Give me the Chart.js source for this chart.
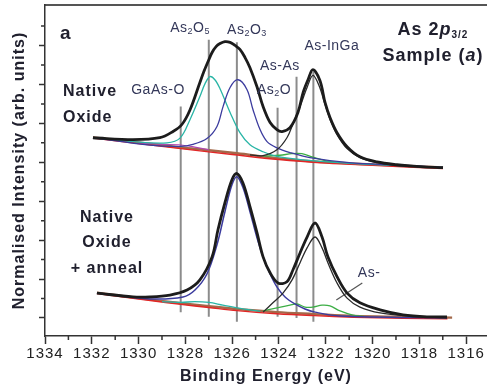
<!DOCTYPE html>
<html>
<head>
<meta charset="utf-8">
<script src="https://cdn.jsdelivr.net/npm/chart.js@4.4.1/dist/chart.umd.min.js"></script>
<style>
  html, body { margin: 0; padding: 0; background: #fff; }
  #wrap { width: 487px; height: 392px; position: relative; }
</style>
</head>
<body>
<div id="wrap"><canvas id="as2pChart"></canvas></div>
<script>
// As 2p3/2 fits, binding energy (eV) vs normalised intensity (arb. units)

// native oxide (upper spectrum)
var topEnvelope = [[1331.95, 4.63], [1330.24, 4.58], [1329.09, 4.63], [1328.53, 4.79], [1328.15, 4.97], [1327.80, 5.35],
  [1327.38, 6.05], [1327.21, 6.33], [1327.03, 6.59], [1326.86, 6.82], [1326.69, 6.97], [1326.52, 7.05], [1326.31, 7.10],
  [1326.09, 7.08], [1325.88, 7.00], [1325.67, 6.90], [1325.45, 6.69], [1325.24, 6.43], [1324.94, 5.94], [1324.68, 5.43],
  [1324.38, 5.02], [1324.09, 4.84], [1323.87, 4.79], [1323.53, 4.89], [1323.19, 5.28], [1322.97, 5.79], [1322.76, 6.12],
  [1322.55, 6.38], [1322.25, 6.10], [1322.03, 5.53], [1321.82, 5.15], [1321.52, 4.76], [1321.09, 4.40], [1320.54, 4.14],
  [1319.81, 4.01], [1318.96, 3.94], [1317.97, 3.89], [1316.99, 3.86]];
var topAsInGa = [[1325.24, 4.19], [1324.68, 4.17], [1324.09, 4.32], [1323.66, 4.63], [1323.40, 4.99], [1323.10, 5.43],
  [1322.80, 5.92], [1322.55, 6.23], [1322.29, 5.97], [1322.03, 5.48], [1321.82, 5.10], [1321.52, 4.71], [1321.09, 4.35],
  [1320.54, 4.12], [1319.81, 3.99], [1318.96, 3.91], [1317.97, 3.88], [1316.99, 3.86]];
var topAs2O5 = [[1331.95, 4.63], [1330.24, 4.53], [1328.79, 4.50], [1328.23, 4.62], [1327.80, 5.10], [1327.38, 5.69],
  [1327.16, 6.02], [1326.95, 6.20], [1326.74, 6.12], [1326.52, 5.89], [1326.09, 5.28], [1325.67, 4.76], [1325.24, 4.45],
  [1324.68, 4.27], [1324.09, 4.15], [1323.10, 4.07], [1321.0, 3.97], [1319.0, 3.92], [1316.99, 3.87]];
var topAs2O3 = [[1331.95, 4.63], [1329.51, 4.44], [1328.23, 4.41], [1327.68, 4.46], [1327.08, 4.61], [1326.65, 4.92],
  [1326.39, 5.43], [1326.09, 5.92], [1325.75, 6.12], [1325.37, 5.87], [1325.11, 5.35], [1324.81, 4.84], [1324.51, 4.53],
  [1324.09, 4.37], [1323.53, 4.25], [1322.68, 4.12], [1321.0, 3.99], [1319.0, 3.93], [1316.99, 3.87]];
var topAsAs = [[1324.68, 4.16], [1323.96, 4.18], [1323.45, 4.22], [1323.02, 4.22], [1322.59, 4.14], [1322.03, 4.04],
  [1321.39, 3.99]];
var topGaAsO = [[1330.0, 4.50], [1329.0, 4.46], [1328.3, 4.45], [1327.6, 4.39], [1327.0, 4.32]];
var topShirley = [[1331.95, 4.64], [1330.0, 4.51], [1328.2, 4.38], [1327.0, 4.31], [1325.8, 4.23], [1324.0, 4.10],
  [1322.5, 4.02], [1321.0, 3.97], [1319.0, 3.92], [1316.99, 3.87]];
var topLinear = [[1331.95, 4.62], [1330.0, 4.48], [1328.2, 4.35], [1326.0, 4.20], [1324.0, 4.07], [1322.0, 3.98],
  [1320.0, 3.92], [1316.99, 3.84]];

// native oxide + anneal (lower spectrum)
var lowEnvelope = [[1331.78, 0.64], [1330.24, 0.54], [1329.51, 0.54], [1328.66, 0.59], [1327.93, 0.72], [1327.38, 0.98],
  [1326.86, 1.57], [1326.61, 2.26], [1326.31, 2.96], [1326.01, 3.55], [1325.80, 3.71], [1325.54, 3.47], [1325.24, 2.86],
  [1324.94, 2.19], [1324.68, 1.57], [1324.38, 1.16], [1324.04, 0.90], [1323.66, 0.93], [1323.40, 1.24], [1323.10, 1.67],
  [1322.80, 2.08], [1322.46, 2.44], [1322.16, 2.08], [1321.91, 1.57], [1321.52, 1.06], [1321.09, 0.64], [1320.54, 0.39],
  [1319.68, 0.21], [1318.70, 0.08], [1317.68, 0.03], [1316.82, 0.03]];
var lowAsInGa = [[1324.68, 0.15], [1324.26, 0.39], [1323.83, 0.64], [1323.44, 0.98], [1323.10, 1.42], [1322.80, 1.80],
  [1322.46, 2.08], [1322.16, 1.80], [1321.91, 1.42], [1321.52, 0.90], [1321.09, 0.51], [1320.54, 0.28], [1319.68, 0.13],
  [1318.40, 0.05], [1316.82, 0.00]];
var lowAs2O3 = [[1331.78, 0.64], [1329.51, 0.49], [1328.10, 0.54], [1327.59, 0.72], [1327.08, 1.13], [1326.65, 1.88],
  [1326.31, 2.73], [1326.01, 3.42], [1325.80, 3.63], [1325.54, 3.35], [1325.24, 2.73], [1324.94, 2.06], [1324.68, 1.57],
  [1324.38, 1.13], [1324.09, 0.80], [1323.74, 0.54], [1323.32, 0.36], [1322.89, 0.23], [1322.46, 0.15], [1321.39, 0.05],
  [1316.82, 0.00]];
var lowAs2O5 = [[1329.0, 0.42], [1328.2, 0.40], [1327.6, 0.42], [1327.0, 0.40], [1326.4, 0.33], [1325.6, 0.24],
  [1324.8, 0.17]];
var lowAsAs = [[1324.68, 0.18], [1324.09, 0.26], [1323.53, 0.33], [1323.23, 0.36], [1322.89, 0.28], [1322.55, 0.28],
  [1322.16, 0.33], [1321.82, 0.31], [1321.39, 0.18], [1320.88, 0.08], [1320.32, 0.03]];
var lowShirley = [[1331.78, 0.65], [1329.5, 0.47], [1328.2, 0.38], [1327.0, 0.30], [1325.8, 0.23], [1324.1, 0.15],
  [1322.5, 0.10], [1320.8, 0.05], [1318.7, 0.03], [1316.6, 0.01]];
var lowLinear = [[1331.78, 0.63], [1329.5, 0.45], [1328.2, 0.35], [1327.0, 0.27], [1325.8, 0.19], [1324.1, 0.11],
  [1322.5, 0.06], [1320.8, 0.02], [1318.7, -0.01], [1316.8, -0.02]];

// reference energies for GaAs-O, As2O5, As2O3, As2O, As-As, As-InGa
var peakEnergies = [1328.2, 1327.0, 1325.8, 1324.06, 1323.25, 1322.53];
var peakLineTop = [5.43, 7.15, 7.08, 5.40, 6.20, 6.33];
var peakLineBottom = [0.15, 0.03, -0.10, 0.03, 0.0, -0.10];
var asMinusPointer = [[1320.44, 0.90], [1321.55, 0.46]];

var xTickValues = [1334, 1332, 1330, 1328, 1326, 1324, 1322, 1320, 1318, 1316];
var xMinorValues = [1333, 1331, 1329, 1327, 1325, 1323, 1321, 1319, 1317];
var yTickValues = [0, 1, 2, 3, 4, 5, 6, 7];
var yMinorValues = [0.5, 1.5, 2.5, 3.5, 4.5, 5.5, 6.5, 7.5];

var FONT = "'Liberation Sans', Arial, sans-serif";
var TEXT_DARK = '#20202e';
var TEXT_SMALL = '#34385a';

function pts(arr) {
  return arr.map(function (p) { return { x: p[0], y: p[1] }; });
}

function curve(data, color, width) {
  return { data: pts(data), borderColor: color, borderWidth: width, tension: 0.35 };
}

var datasets = [
  curve(topEnvelope, '#1c1c1c', 2.8),
  curve(lowEnvelope, '#1c1c1c', 2.8),
  curve(topAsInGa, '#2a2a2a', 1.3),
  curve(lowAsInGa, '#2a2a2a', 1.3),
  curve(topAs2O3, '#3b3b9e', 1.3),
  curve(lowAs2O3, '#3b3b9e', 1.5),
  curve(topAs2O5, '#29b5a6', 1.3),
  curve(lowAs2O5, '#29b5a6', 1.3),
  curve(topAsAs, '#3cae45', 1.3),
  curve(lowAsAs, '#3cae45', 1.3),
  curve(topGaAsO, '#b048b0', 1.2),
  curve(topLinear, '#e12626', 1.4),
  curve(lowLinear, '#e12626', 1.4),
  curve(topShirley, '#a3694a', 2.4),
  curve(lowShirley, '#a3694a', 2.4),
  { data: pts(asMinusPointer), borderColor: '#555', borderWidth: 1.2, tension: 0 }
];
peakEnergies.forEach(function (e, i) {
  datasets.push({
    data: [{ x: e, y: peakLineTop[i] }, { x: e, y: peakLineBottom[i] }],
    borderColor: '#8c8c8c', borderWidth: 2, tension: 0
  });
});

// minor tick marks on both axes
var minorTicks = {
  id: 'minorTicks',
  afterDraw: function (chart) {
    var ctx = chart.ctx, xs = chart.scales.x, ys = chart.scales.y, a = chart.chartArea;
    ctx.save();
    ctx.strokeStyle = '#333';
    ctx.lineWidth = 1.5;
    ctx.beginPath();
    xMinorValues.forEach(function (v) {
      var px = xs.getPixelForValue(v);
      ctx.moveTo(px, a.bottom);
      ctx.lineTo(px, a.bottom + 4);
    });
    yMinorValues.forEach(function (v) {
      var py = ys.getPixelForValue(v);
      ctx.moveTo(a.left, py);
      ctx.lineTo(a.left - 4, py);
    });
    ctx.stroke();
    ctx.restore();
  }
};

// draws a label made of runs (normal text, subscripts, italics)
function drawRuns(ctx, x, y, runs, align) {
  var widths = runs.map(function (r) {
    ctx.font = r.font;
    return ctx.measureText(r.t).width;
  });
  var total = widths.reduce(function (s, w) { return s + w; }, 0);
  var cx = align === 'center' ? x - total / 2 : x;
  runs.forEach(function (r, i) {
    ctx.font = r.font;
    ctx.fillText(r.t, cx, y + (r.dy || 0));
    cx += widths[i];
  });
}

var labels = {
  id: 'labels',
  beforeDraw: function (chart) {
    chart.ctx.letterSpacing = '1px';
  },
  afterDatasetsDraw: function (chart) {
    var ctx = chart.ctx, xs = chart.scales.x, ys = chart.scales.y;
    function X(e) { return xs.getPixelForValue(e); }
    function Y(v) { return ys.getPixelForValue(v); }
    var big = 'bold 16px ' + FONT;
    var small = '14px ' + FONT;
    var sub = '9px ' + FONT;
    ctx.save();
    ctx.textBaseline = 'middle';
    ctx.letterSpacing = '1px';

    ctx.fillStyle = TEXT_DARK;
    drawRuns(ctx, X(1333.36), Y(7.30), [{ t: 'a', font: 'bold 19px ' + FONT }], 'left');
    drawRuns(ctx, X(1333.23), Y(5.81), [{ t: 'Native', font: big }], 'left');
    drawRuns(ctx, X(1333.23), Y(5.16), [{ t: 'Oxide', font: big }], 'left');
    drawRuns(ctx, X(1331.35), Y(2.57), [{ t: 'Native', font: big }], 'center');
    drawRuns(ctx, X(1331.35), Y(1.93), [{ t: 'Oxide', font: big }], 'center');
    drawRuns(ctx, X(1331.35), Y(1.28), [{ t: '+ anneal', font: big }], 'center');
    drawRuns(ctx, X(1317.42), Y(7.40), [
      { t: 'As 2', font: 'bold 18px ' + FONT },
      { t: 'p', font: 'italic bold 18px ' + FONT },
      { t: '3/2', font: 'bold 10px ' + FONT, dy: 5 }
    ], 'center');
    drawRuns(ctx, X(1317.42), Y(6.73), [
      { t: 'Sample (', font: 'bold 18px ' + FONT },
      { t: 'a', font: 'italic bold 18px ' + FONT },
      { t: ')', font: 'bold 18px ' + FONT }
    ], 'center');

    ctx.fillStyle = TEXT_SMALL;
    ctx.letterSpacing = '0.5px';
    drawRuns(ctx, X(1327.80), Y(7.45), [
      { t: 'As', font: small }, { t: '2', font: sub, dy: 4 }, { t: 'O', font: small }, { t: '5', font: sub, dy: 4 }
    ], 'center');
    drawRuns(ctx, X(1325.37), Y(7.40), [
      { t: 'As', font: small }, { t: '2', font: sub, dy: 4 }, { t: 'O', font: small }, { t: '3', font: sub, dy: 4 }
    ], 'center');
    drawRuns(ctx, X(1329.17), Y(5.86), [{ t: 'GaAs-O', font: small }], 'center');
    drawRuns(ctx, X(1321.74), Y(6.99), [{ t: 'As-InGa', font: small }], 'center');
    drawRuns(ctx, X(1323.96), Y(6.47), [{ t: 'As-As', font: small }], 'center');
    drawRuns(ctx, X(1324.21), Y(5.86), [
      { t: 'As', font: small }, { t: '2', font: sub, dy: 4 }, { t: 'O', font: small }
    ], 'center');
    drawRuns(ctx, X(1320.15), Y(1.16), [{ t: 'As-', font: small }], 'center');
    ctx.restore();
  }
};

var chart = new Chart(document.getElementById('as2pChart'), {
  type: 'line',
  data: { datasets: datasets },
  options: {
    animation: false,
    responsive: true,
    maintainAspectRatio: false,
    layout: { padding: { top: 5, right: 0, bottom: 0, left: 0 } },
    elements: {
      point: { radius: 0, hoverRadius: 0 },
      line: { fill: false }
    },
    plugins: {
      legend: { display: false },
      tooltip: { enabled: false }
    },
    scales: {
      x: {
        type: 'linear',
        position: 'bottom',
        reverse: true,
        min: 1315.11,
        max: 1334,
        afterBuildTicks: function (scale) {
          scale.ticks = xTickValues.map(function (v) { return { value: v }; });
        },
        afterFit: function (scale) { scale.height = 56; },
        ticks: {
          autoSkip: false,
          maxRotation: 0,
          padding: 1,
          color: '#222',
          font: { family: FONT, size: 15 },
          callback: function (v) { return String(v); }
        },
        grid: { drawOnChartArea: false, tickLength: 8, tickColor: '#333', tickWidth: 1.5 },
        border: { color: '#333', width: 1.5 },
        title: {
          display: true,
          text: 'Binding Energy (eV)',
          color: TEXT_DARK,
          font: { family: FONT, size: 16, weight: 'bold' },
          padding: { top: 0, bottom: 6 }
        }
      },
      xTop: {
        type: 'linear',
        position: 'top',
        reverse: true,
        min: 1315.11,
        max: 1334,
        afterFit: function (scale) { scale.height = 0; },
        ticks: { display: false },
        grid: { drawOnChartArea: false, drawTicks: false },
        border: { color: '#555', width: 2 }
      },
      y: {
        type: 'linear',
        min: -0.463,
        max: 8.04,
        afterBuildTicks: function (scale) {
          scale.ticks = yTickValues.map(function (v) { return { value: v }; });
        },
        afterFit: function (scale) { scale.width = 45; },
        ticks: { display: false },
        grid: { drawOnChartArea: false, tickLength: 6, tickColor: '#333', tickWidth: 1.5 },
        border: { color: '#333', width: 1.5 },
        title: {
          display: true,
          text: 'Normalised Intensity (arb. units)',
          color: TEXT_DARK,
          font: { family: FONT, size: 16, weight: 'bold' },
          padding: { top: 10, bottom: 0 }
        }
      }
    }
  },
  plugins: [minorTicks, labels]
});
</script>
</body>
</html>
